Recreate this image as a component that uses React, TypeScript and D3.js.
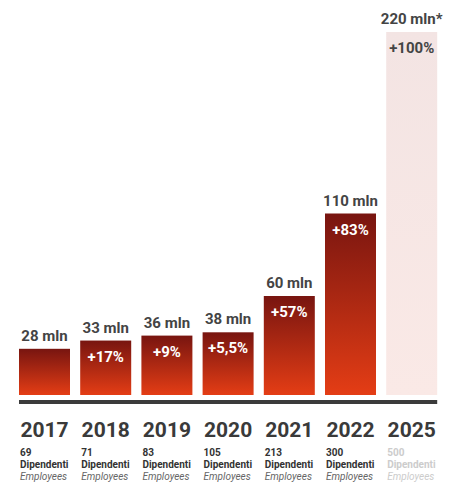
import React from "react";
import * as d3 from "d3";

const years = ["2017", "2018", "2019", "2020", "2021", "2022", "2025"];
const revenue = [28, 33, 36, 38, 60, 110, 220];
const revenueLabels = ["28 mln", "33 mln", "36 mln", "38 mln", "60 mln", "110 mln", "220 mln*"];
const growthLabels = ["", "+17%", "+9%", "+5,5%", "+57%", "+83%", "+100%"];
const employees = ["69", "71", "83", "105", "213", "300", "500"];
const forecast = [false, false, false, false, false, false, true];

const W = 459;
const H = 485;
const FONT = "Roboto, 'Noto Sans', sans-serif";

export default function App() {
  const x = d3.scaleBand<string>().domain(years).range([19, 437.2]).paddingInner(0.1667).paddingOuter(0);
  const y = d3.scaleLinear().domain([0, 220]).range([395, 32]);
  const bw = x.bandwidth();

  return (
    <svg width={W} height={H} style={{ position: "absolute", left: 0, top: 0, background: "#fff" }}>
      <defs>
        <linearGradient id="barGrad" x1="0" y1="0" x2="0" y2="1">
          <stop offset="0%" stopColor="#781510" />
          <stop offset="100%" stopColor="#e43d15" />
        </linearGradient>
        <linearGradient id="foreGrad" x1="0" y1="0" x2="0" y2="1">
          <stop offset="0%" stopColor="#f3e4e3" />
          <stop offset="100%" stopColor="#fae9e6" />
        </linearGradient>
      </defs>
      {years.map((yr, i) => {
        const bx = x(yr)!;
        const top = y(revenue[i]);
        const cx = bx + bw / 2;
        const fc = forecast[i];
        return (
          <g key={yr}>
            <rect x={bx} y={top} width={bw} height={y(0) - top} fill={fc ? "url(#foreGrad)" : "url(#barGrad)"} />
            <text x={cx} y={top - 8} textAnchor="middle" fontFamily={FONT} fontWeight={700} fontSize={15} fill="#444">
              {revenueLabels[i]}
            </text>
            {growthLabels[i] && (
              <text x={cx} y={top + 21} textAnchor="middle" fontFamily={FONT} fontWeight={700} fontSize={15} fill={fc ? "#444" : "#fff"}>
                {growthLabels[i]}
              </text>
            )}
            <text x={cx} y={437} textAnchor="middle" fontFamily={FONT} fontWeight={700} fontSize={21} fill="#3a3a3a">
              {yr}
            </text>
            <text x={bx + 1} y={456} fontFamily={FONT} fontWeight={700} fontSize={10} fill={fc ? "#ccc" : "#333"}>
              {employees[i]}
            </text>
            <text x={bx + 1} y={468} fontFamily={FONT} fontWeight={700} fontSize={10} fill={fc ? "#ccc" : "#333"}>
              Dipendenti
            </text>
            <text x={bx + 1} y={480} fontFamily={FONT} fontStyle="italic" fontSize={10} fill={fc ? "#ccc" : "#666"}>
              Employees
            </text>
          </g>
        );
      })}
      <rect x={x(years[0])!} y={400} width={x(years[years.length - 1])! + bw - x(years[0])!} height={4} fill="#3b3b3b" />
    </svg>
  );
}
